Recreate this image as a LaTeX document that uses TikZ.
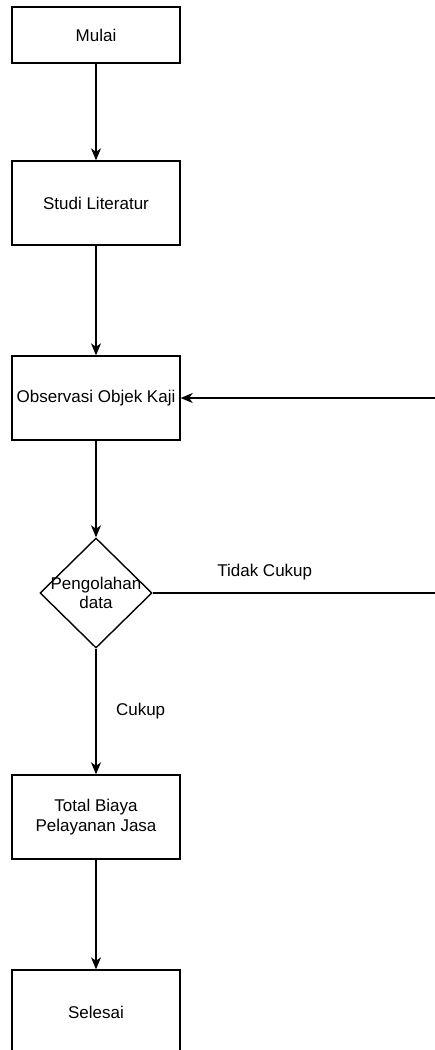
\documentclass[tikz,border=0pt]{standalone}
\usepackage{fontspec}
\setmainfont{Liberation Sans}
\usetikzlibrary{shapes.geometric,arrows.meta}
\begin{document}
\begin{tikzpicture}[x=1pt,y=-1pt,
  every node/.style={font=\fontsize{17}{20}\selectfont},
  procbox/.style={draw,line width=1.4pt,minimum width=168pt,minimum height=84pt,inner sep=0pt,align=center},
  decision/.style={draw,diamond,line width=1.4pt,minimum width=112pt,minimum height=110pt,inner sep=0pt},
  flow/.style={line width=1.4pt,-{Stealth[length=12pt,width=10pt,inset=3.5pt]}},
  plain/.style={line width=1.4pt}]
  \useasboundingbox (0,0) rectangle (435,1050);
  \clip (0,0) rectangle (435,1050);

  \node[procbox,minimum height=56pt] (start) at (96,35) {Mulai};
  \node[procbox] (lit) at (96,203) {Studi Literatur};
  \node[procbox] (obs) at (96,398) {Observasi Objek Kaji};
  \node[decision,label={[align=center,font=\fontsize{17}{19.5}\selectfont]center:Pengolahan\\data}] (dec) at (96,593) {};
  \node[procbox] (total) at (96,817) {Total Biaya\\Pelayanan Jasa};
  \node[procbox] (stop) at (96,1012) {Selesai};

  % loop back when the data is not sufficient
  \coordinate (rb) at (440,593);
  \coordinate (rt) at (440,398);

  \draw[flow] (start) -- (lit);
  \draw[flow] (lit) -- (obs);
  \draw[flow] (obs) -- (dec);
  \draw[flow] (dec) -- node[pos=0.5,anchor=west,xshift=16pt]{Cukup} (total);
  \draw[flow] (total) -- (stop);
  \draw[plain] (dec.east) -- node[pos=0.39,anchor=south,yshift=9pt]{Tidak Cukup} (rb) -- (rt);
  \draw[flow] (rt) -- (obs.east);
\end{tikzpicture}
\end{document}
